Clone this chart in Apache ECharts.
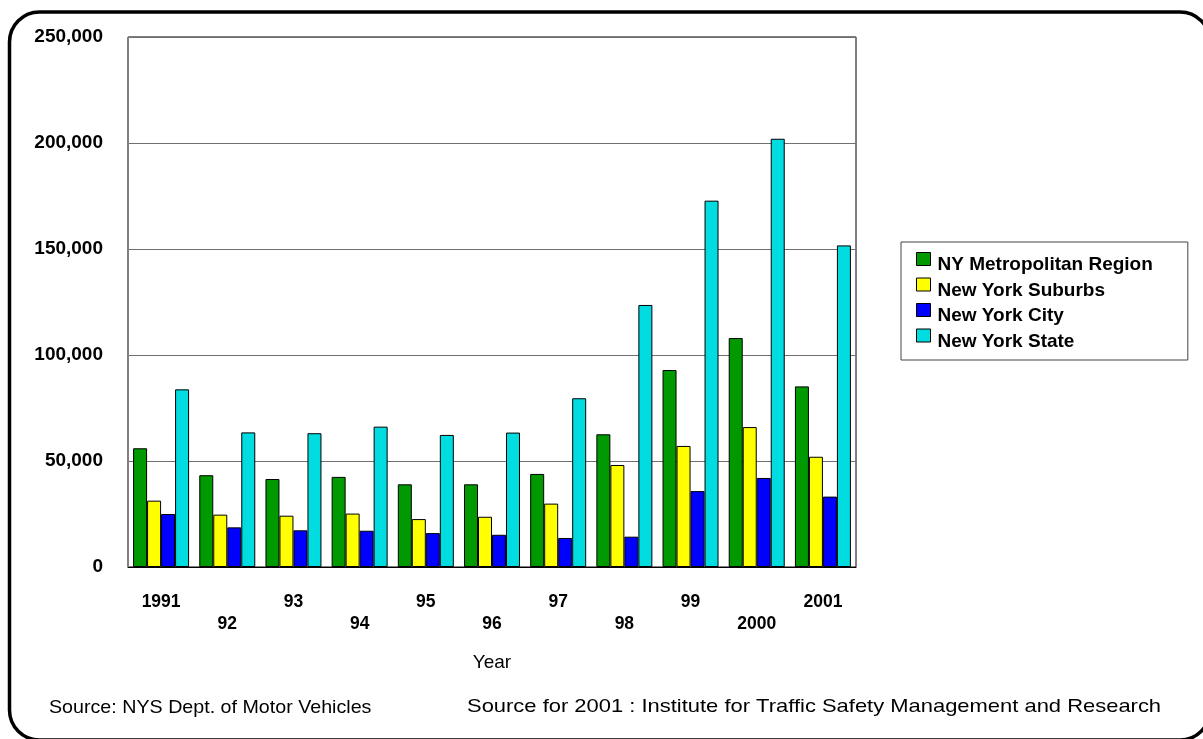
<!DOCTYPE html>
<html>
<head>
<meta charset="utf-8">
<title>NY registrations by year</title>
<script src="https://cdn.jsdelivr.net/npm/echarts@6/dist/echarts.min.js"></script>
<style>
  html, body { margin: 0; padding: 0; background: #fff; }
  #chart { width: 1203px; height: 739px; }
</style>
</head>
<body>
<div id="chart"></div>
<script>
// data
const years = ['1991', '92', '93', '94', '95', '96', '97', '98', '99', '2000', '2001']
const metroRegion = [56000, 43300, 41500, 42500, 39000, 39000, 43900, 62600, 92900, 108000, 85200]
const nySuburbs = [31300, 24700, 24200, 25200, 22600, 23700, 29900, 48100, 57100, 66000, 52000]
const nyCity = [25000, 18700, 17300, 17100, 16000, 15200, 13700, 14300, 35800, 42000, 33200]
const nyState = [83800, 63500, 63100, 66200, 62300, 63400, 79600, 123600, 172800, 202000, 151700]

const seriesNames = ['NY Metropolitan Region', 'New York Suburbs', 'New York City', 'New York State']
const seriesColors = ['#009900', '#ffff00', '#0000ff', '#00dce0']

const FONT = '"Liberation Sans", Arial, sans-serif'

const chart = echarts.init(document.getElementById('chart'))

const makeBar = (name, data, color) => ({
  name,
  type: 'bar',
  data,
  barWidth: 14,
  barGap: '0%',
  itemStyle: {
    color,
    borderColor: '#000',
    borderWidth: 1
  }
})

const option = {
  animation: false,
  backgroundColor: '#fff',
  textStyle: { fontFamily: FONT },
  grid: {
    left: 128,
    right: 347,
    top: 37,
    bottom: 172,
    show: true,
    borderColor: '#000',
    borderWidth: 1
  },
  legend: {
    orient: 'vertical',
    left: 901,
    top: 242,
    padding: [1.5, 35, 9, 15],
    itemWidth: 14,
    itemHeight: 13,
    itemGap: -5.5,
    icon: 'rect',
    borderColor: '#444',
    borderWidth: 1,
    data: seriesNames,
    // empty first line pushes the label a little below the swatch, as in the original
    formatter: (name) => '\n' + name,
    itemStyle: { borderColor: '#000', borderWidth: 1 },
    textStyle: {
      fontFamily: FONT,
      fontSize: 19,
      fontWeight: 'bold',
      color: '#000',
      lineHeight: 12,
      padding: [0, 0, 0, 2]
    }
  },
  xAxis: {
    type: 'category',
    data: years,
    name: 'Year',
    nameLocation: 'middle',
    nameGap: 86,
    nameTextStyle: { fontFamily: FONT, fontSize: 19, color: '#000' },
    axisLine: { lineStyle: { color: '#000', width: 1 } },
    axisTick: { show: false },
    axisLabel: {
      interval: 0,
      margin: 24,
      fontFamily: FONT,
      fontSize: 17.5,
      fontWeight: 'bold',
      color: '#000',
      lineHeight: 22,
      formatter: (value, index) => (index % 2 === 1 ? '\n' + value : value)
    }
  },
  yAxis: {
    type: 'value',
    min: 0,
    max: 250000,
    interval: 50000,
    axisLine: { show: true, lineStyle: { color: '#808080' } },
    axisTick: { show: false },
    splitLine: { lineStyle: { color: '#707070', width: 1 } },
    axisLabel: {
      margin: 25,
      fontFamily: FONT,
      fontSize: 19,
      fontWeight: 'bold',
      color: '#000',
      padding: [4, 0, 0, 0],
      formatter: (v) => v.toLocaleString('en-US')
    }
  },
  series: [
    makeBar(seriesNames[0], metroRegion, seriesColors[0]),
    makeBar(seriesNames[1], nySuburbs, seriesColors[1]),
    makeBar(seriesNames[2], nyCity, seriesColors[2]),
    makeBar(seriesNames[3], nyState, seriesColors[3])
  ],
  graphic: [
    {
      type: 'rect',
      silent: true,
      z: -10,
      shape: { x: 9.5, y: 12, width: 1200.5, height: 728, r: 30 },
      style: { fill: 'none', stroke: '#000', lineWidth: 3.5 }
    },
    {
      type: 'text',
      x: 49,
      y: 698,
      style: {
        text: 'Source: NYS Dept. of Motor Vehicles',
        font: '19px ' + FONT,
        fill: '#000'
      },
      scaleX: 1.035
    },
    {
      type: 'text',
      x: 467,
      y: 697,
      style: {
        text: 'Source for 2001 : Institute for Traffic Safety Management and Research',
        font: '19px ' + FONT,
        fill: '#000'
      },
      scaleX: 1.155
    }
  ]
}

chart.setOption(option)
</script>
</body>
</html>
